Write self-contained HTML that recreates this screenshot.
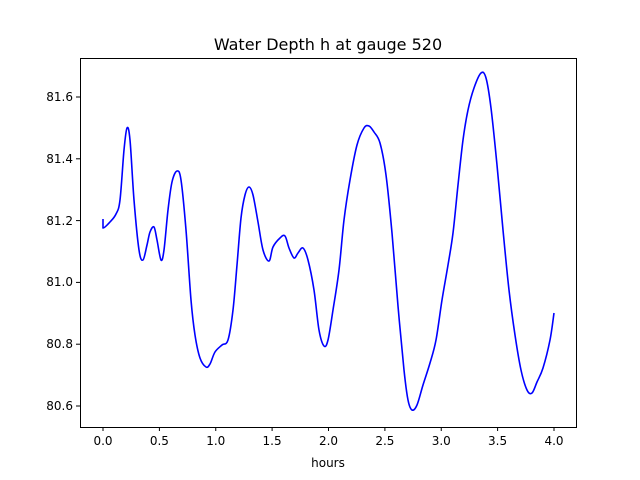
<!DOCTYPE html>
<html><head><meta charset="utf-8"><style>body{margin:0;background:#fff}svg{display:block}text{font-family:"DejaVu Sans","Liberation Sans",sans-serif;fill:#000}</style></head><body>
<svg width="640" height="480" viewBox="0 0 640 480">
<rect width="640" height="480" fill="#fff"/>
<text x="328" y="50" font-size="16" text-anchor="middle">Water Depth h at gauge 520</text>
<g stroke="#000" stroke-width="1">
<line x1="103" y1="427" x2="103" y2="431"/><line x1="159.4" y1="427" x2="159.4" y2="431"/><line x1="215.75" y1="427" x2="215.75" y2="431"/><line x1="272.1" y1="427" x2="272.1" y2="431"/><line x1="328.5" y1="427" x2="328.5" y2="431"/><line x1="384.9" y1="427" x2="384.9" y2="431"/><line x1="441.25" y1="427" x2="441.25" y2="431"/><line x1="497.6" y1="427" x2="497.6" y2="431"/><line x1="554" y1="427" x2="554" y2="431"/>
<line x1="76" y1="97" x2="80" y2="97"/><line x1="76" y1="158.8" x2="80" y2="158.8"/><line x1="76" y1="220.6" x2="80" y2="220.6"/><line x1="76" y1="282.4" x2="80" y2="282.4"/><line x1="76" y1="344.2" x2="80" y2="344.2"/><line x1="76" y1="406" x2="80" y2="406"/>
</g>
<g font-size="12" text-anchor="middle">
<text x="103" y="445">0.0</text><text x="159.4" y="445">0.5</text><text x="215.75" y="445">1.0</text><text x="272.1" y="445">1.5</text><text x="328.5" y="445">2.0</text><text x="384.9" y="445">2.5</text><text x="441.25" y="445">3.0</text><text x="497.6" y="445">3.5</text><text x="554" y="445">4.0</text>
</g>
<g font-size="12" text-anchor="end">
<text x="73" y="101">81.6</text><text x="73" y="163">81.4</text><text x="73" y="225">81.2</text><text x="73" y="286">81.0</text><text x="73" y="348">80.8</text><text x="73" y="410">80.6</text>
</g>
<text x="328" y="467" font-size="12" text-anchor="middle">hours</text>
<path id="c" fill="none" stroke="#0000ff" stroke-width="1.6" stroke-linejoin="round" d=""/>
<rect x="80.5" y="58.5" width="496" height="369" fill="none" stroke="#000" stroke-width="1"/>
</svg>
<script>
var p=[[103,219],[103,228],[110,222],[116,214],[120,200],[124,150],[127,128],[130,140],[134,200],[139,250],[143,260],[147,245],[150,232],[154,227],[157,240],[161,260],[164,250],[168,210],[172,182],[177,171],[181,180],[186,230],[191,300],[195,335],[200,358],[206,367],[210,364],[215,352],[222,345],[228,340],[233,310],[237,265],[241,218],[245,195],[249,187],[253,195],[258,222],[263,250],[269,261],[273,247],[280,238],[285,236],[289,248],[294,258],[298,253],[303,248],[308,260],[314,290],[319,330],[324,346],[328,340],[333,310],[339,270],[344,220],[350,180],[357,145],[364,128],[369,126],[374,132],[380,143],[386,175],[392,233],[398,306],[404,370],[408,400],[412,410],[417,405],[423,385],[430,363],[436,340],[442,300],[448,265],[453,233],[458,185],[463,140],[468,110],[474,88],[481,73],[486,78],[491,108],[497,165],[503,230],[509,290],[515,335],[521,370],[527,390],[532,393],[537,382],[543,368],[550,340],[554,313]];
var d="M"+p[0][0]+","+p[0][1]+" L"+p[1][0]+","+p[1][1];
for(var i=1;i<p.length-1;i++){var a=p[i-1],b=p[i],c=p[i+1],e=p[Math.min(i+2,p.length-1)];
d+=" C"+(b[0]+(c[0]-a[0])/6)+","+(b[1]+(c[1]-a[1])/6)+" "+(c[0]-(e[0]-b[0])/6)+","+(c[1]-(e[1]-b[1])/6)+" "+c[0]+","+c[1];}
document.getElementById("c").setAttribute("d",d);
</script>
</body></html>
